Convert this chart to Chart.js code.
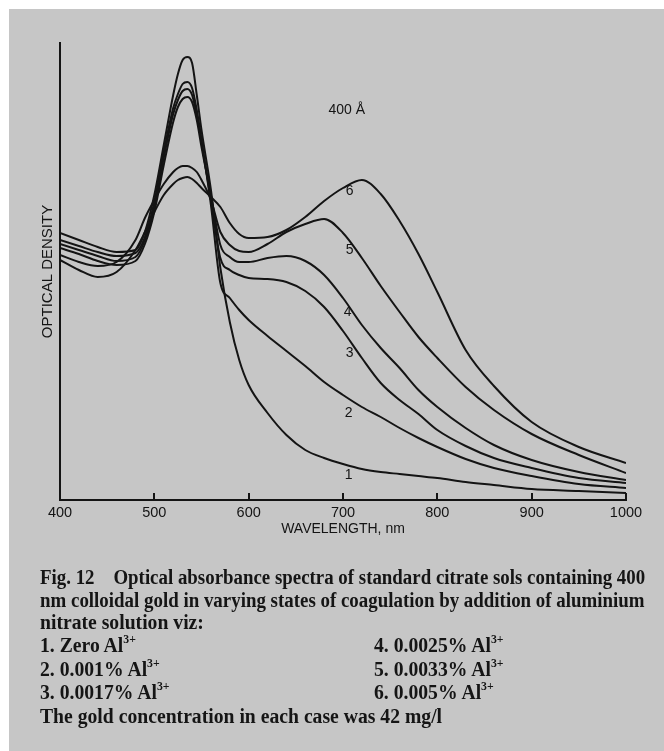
<!DOCTYPE html>
<html><head><meta charset="utf-8">
<script src="https://cdn.jsdelivr.net/npm/chart.js@4.4.1/dist/chart.umd.min.js"></script>
<style>
html,body{margin:0;padding:0;background:#fff;}
#wrap{position:relative;width:664px;height:751px;overflow:hidden;background:#fff;}
#bg{position:absolute;left:9px;top:9px;right:0;bottom:0;background:#c6c6c6;}
#c{position:absolute;left:0;top:0;}
.cap{position:absolute;height:23px;line-height:23px;font-family:"Liberation Serif",serif;font-weight:bold;font-size:20.5px;color:#151515;white-space:nowrap;transform-origin:0 50%;}
.cap sup{font-size:0.6em;line-height:0;vertical-align:0.75em;}
</style></head><body>
<div id="wrap"><div id="bg"></div><canvas id="c" width="664" height="751"></canvas>
<div class="cap fit" data-w="605" style="left:40px;top:566px">Fig. 12&nbsp;&nbsp;&nbsp;&nbsp;Optical absorbance spectra of standard citrate sols containing 400</div>
<div class="cap fit" data-w="605" style="left:40px;top:589px">nm colloidal gold in varying states of coagulation by addition of aluminium</div>
<div class="cap" style="left:40px;top:611px">nitrate solution viz:</div>
<div class="cap" style="left:40px;top:634px">1. Zero Al<sup>3+</sup></div>
<div class="cap" style="left:374px;top:634px">4. 0.0025% Al<sup>3+</sup></div>
<div class="cap" style="left:40px;top:658px">2. 0.001% Al<sup>3+</sup></div>
<div class="cap" style="left:374px;top:658px">5. 0.0033% Al<sup>3+</sup></div>
<div class="cap" style="left:40px;top:681px">3. 0.0017% Al<sup>3+</sup></div>
<div class="cap" style="left:374px;top:681px">6. 0.005% Al<sup>3+</sup></div>
<div class="cap" id="last" style="left:40px;top:705px">The gold concentration in each case was 42 mg/l</div>
</div>
<script>
// Wavelength (nm) sample points
const wavelengths = [400,420,440,460,480,490,500,510,520,525,530,535,540,545,550,560,570,580,590,600,620,640,660,680,700,720,740,760,780,800,830,860,900,950,1000];
// Optical density (arbitrary units) for each sol
const curve1 = [2.67,2.60,2.53,2.48,2.50,2.68,3.05,3.55,4.05,4.26,4.40,4.43,4.37,4.05,3.70,3.10,2.32,1.78,1.40,1.15,0.87,0.65,0.50,0.42,0.36,0.31,0.28,0.26,0.24,0.22,0.18,0.15,0.11,0.09,0.07];
const curve2 = [2.60,2.54,2.48,2.44,2.47,2.63,2.98,3.48,3.92,4.06,4.16,4.18,4.12,3.90,3.60,2.95,2.17,2.02,1.90,1.80,1.64,1.49,1.34,1.18,1.05,0.93,0.83,0.72,0.62,0.53,0.41,0.32,0.24,0.16,0.12];
const curve3 = [2.56,2.50,2.44,2.39,2.43,2.60,2.93,3.42,3.86,4.00,4.09,4.11,4.05,3.85,3.58,3.00,2.42,2.30,2.25,2.22,2.21,2.18,2.09,1.93,1.69,1.42,1.17,1.00,0.86,0.70,0.54,0.42,0.32,0.22,0.17];
const curve4 = [2.52,2.46,2.39,2.35,2.39,2.56,2.88,3.35,3.78,3.93,4.01,4.03,3.98,3.80,3.53,3.05,2.55,2.43,2.38,2.38,2.42,2.44,2.39,2.25,2.02,1.75,1.52,1.32,1.10,0.93,0.72,0.55,0.40,0.28,0.20];
const curve5 = [2.45,2.38,2.34,2.38,2.60,2.82,3.00,3.16,3.28,3.32,3.34,3.34,3.32,3.28,3.20,3.00,2.68,2.55,2.49,2.48,2.56,2.68,2.76,2.81,2.67,2.42,2.14,1.88,1.63,1.42,1.13,0.90,0.66,0.45,0.27];
const curve6 = [2.40,2.30,2.23,2.28,2.50,2.68,2.88,3.05,3.16,3.20,3.22,3.23,3.21,3.17,3.12,3.03,2.93,2.77,2.66,2.62,2.63,2.70,2.83,2.99,3.12,3.20,3.06,2.79,2.46,2.08,1.50,1.14,0.78,0.53,0.37];
const curveNames = ['1','2','3','4','5','6'];
const tickValues = [400,500,600,700,800,900,1000];
const tickLabels = ['400','500','600','700','800','900','1000'];
const annotationText = '400 Å';

const curves = [curve1,curve2,curve3,curve4,curve5,curve6];
// label anchor points (data coords) for curve numbers and annotation
const labelAnchors = [
  {t:'1', x:706, y:0.25},{t:'2', x:706, y:0.87},{t:'3', x:707, y:1.47},
  {t:'4', x:705, y:1.88},{t:'5', x:707, y:2.50},{t:'6', x:707, y:3.09},
  {t:annotationText, x:704, y:3.90}
];
const INK = '#141414';

const extras = {
  id:'extras',
  afterDraw(chart){
    const {ctx, scales:{x,y}} = chart;
    ctx.save();
    ctx.strokeStyle = INK; ctx.lineWidth = 2;
    tickValues.slice(1).forEach(v=>{
      const px = Math.round(x.getPixelForValue(v));
      ctx.beginPath(); ctx.moveTo(px, y.bottom); ctx.lineTo(px, y.bottom-7); ctx.stroke();
    });
    ctx.fillStyle = INK;
    ctx.font = '14px "Liberation Sans", Arial, sans-serif';
    ctx.textAlign = 'center'; ctx.textBaseline = 'middle';
    labelAnchors.forEach(a=>{
      ctx.fillText(a.t, x.getPixelForValue(a.x), y.getPixelForValue(a.y));
    });
    ctx.restore();
  }
};

new Chart(document.getElementById('c'), {
  type:'line',
  data:{
    datasets: curves.map((c,i)=>({
      label: curveNames[i],
      data: wavelengths.map((w,j)=>({x:w, y:c[j]})),
      borderColor: INK, borderWidth: 2, pointRadius: 0, fill:false,
      cubicInterpolationMode:'monotone'
    }))
  },
  options:{
    responsive:false, animation:false,
    layout:{padding:{top:43,right:38,left:0,bottom:0}},
    plugins:{legend:{display:false}, tooltip:{enabled:false}},
    scales:{
      x:{
        type:'linear', min:400, max:1000,
        afterFit:s=>{s.height=251;},
        afterBuildTicks:s=>{s.ticks = tickValues.map(v=>({value:v}));},
        ticks:{autoSkip:false, maxRotation:0, padding:4, color:INK,
          font:{family:'"Liberation Sans", Arial, sans-serif', size:14.5},
          callback:(v)=>{const i=tickValues.indexOf(v); return i>=0?tickLabels[i]:'';}},
        grid:{display:false, drawTicks:false},
        border:{display:true, color:INK, width:2},
        title:{display:true, text:'WAVELENGTH, nm', color:INK,
          font:{family:'"Liberation Sans", Arial, sans-serif', size:14},
          padding:{top:0,bottom:213.6}}
      },
      y:{
        min:0, max:4.57,
        afterFit:s=>{s.width=60;},
        ticks:{display:false},
        grid:{display:false, drawTicks:false},
        border:{display:true, color:INK, width:2},
        title:{display:true, text:'OPTICAL DENSITY', color:INK,
          font:{family:'"Liberation Sans", Arial, sans-serif', size:15},
          padding:{top:38.5,bottom:0}}
      }
    }
  },
  plugins:[extras]
});

// fit caption lines
const last = document.getElementById('last');
const s = 402 / last.scrollWidth;
document.querySelectorAll('.cap').forEach(el=>{
  let k = s;
  if (el.dataset.w) k = parseFloat(el.dataset.w) / el.scrollWidth;
  el.style.transform = 'scaleX(' + k + ')';
});
</script>
</body></html>
